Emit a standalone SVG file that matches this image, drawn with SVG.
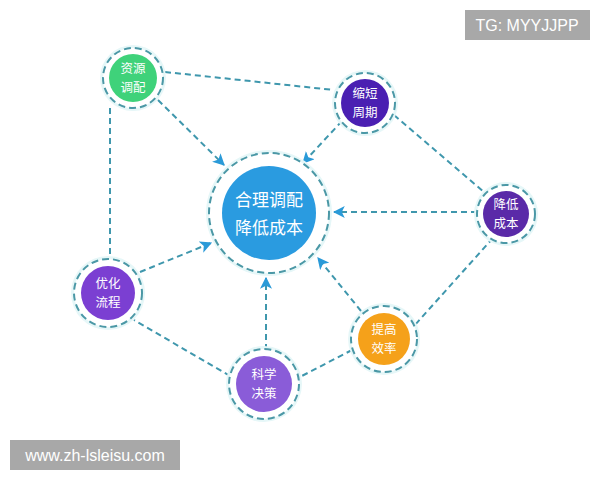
<svg xmlns="http://www.w3.org/2000/svg" width="600" height="480" viewBox="0 0 600 480">
<defs>
<style>
.ring{fill:#ffffff;stroke:#4b98a6;stroke-width:2;stroke-dasharray:7 4}
.glow{fill:#e6f7f8}
.lbl{font-family:"Noto Sans CJK SC","Noto Sans",sans-serif;fill:#ffffff;text-anchor:middle}
.s{font-size:12.5px}
.b{font-size:17px}
.con{fill:none;stroke:#3f97ad;stroke-width:2;stroke-dasharray:6 4}
.wm{font-family:"Liberation Sans",Arial,sans-serif;fill:#ffffff;font-size:16px}
</style>
<marker id="arr" viewBox="0 0 10 10" refX="9" refY="5" markerWidth="6" markerHeight="6" orient="auto" markerUnits="strokeWidth">
<path d="M0,0 L10,5 L0,10 L2.5,5 z" fill="#2a9ad8"/>
</marker>
</defs>
<rect width="600" height="480" fill="#ffffff"/>
<g id="connectors">
<path class="con" d="M165,72 L334,90"/>
<path class="con" d="M394,115 L484,192"/>
<path class="con" d="M493,238 L414,326"/>
<path class="con" d="M352,350 L296,379"/>
<path class="con" d="M230,376 L134,320"/>
<path class="con" d="M110,108 L110,260"/>
<path class="con" d="M158,100 L224,165" marker-end="url(#arr)"/>
<path class="con" d="M342,121 L303,163" marker-end="url(#arr)"/>
<path class="con" d="M477,212 L334,212" marker-end="url(#arr)"/>
<path class="con" d="M140,272 L211,243" marker-end="url(#arr)"/>
<path class="con" d="M266,350 L266,278" marker-end="url(#arr)"/>
<path class="con" d="M361,311 L318,258" marker-end="url(#arr)"/>
</g>
<g id="center">
<circle class="glow" cx="269" cy="213" r="63"/>
<circle class="ring" cx="269" cy="213" r="60"/>
<circle cx="269" cy="213" r="47" fill="#2a9be0"/>
<text class="lbl b" x="269" y="206">合理调配</text>
<text class="lbl b" x="269" y="234">降低成本</text>
</g>
<g id="n-ziyuan">
<circle class="glow" cx="133" cy="78" r="33"/>
<circle class="ring" cx="133" cy="78" r="30"/>
<circle cx="133" cy="78" r="24" fill="#3fd27a"/>
<text class="lbl s" x="133" y="73">资源</text>
<text class="lbl s" x="133" y="92">调配</text>
</g>
<g id="n-suoduan">
<circle class="glow" cx="365" cy="103" r="33"/>
<circle class="ring" cx="365" cy="103" r="30"/>
<circle cx="365" cy="103" r="24" fill="#4a1fb2"/>
<text class="lbl s" x="365" y="98">缩短</text>
<text class="lbl s" x="365" y="117">周期</text>
</g>
<g id="n-jiangdi">
<circle class="glow" cx="506" cy="214" r="32"/>
<circle class="ring" cx="506" cy="214" r="29"/>
<circle cx="506" cy="214" r="23" fill="#5a2aa8"/>
<text class="lbl s" x="506" y="209">降低</text>
<text class="lbl s" x="506" y="228">成本</text>
</g>
<g id="n-youhua">
<circle class="glow" cx="108" cy="293" r="37"/>
<circle class="ring" cx="108" cy="293" r="34"/>
<circle cx="108" cy="293" r="27" fill="#7b3fd2"/>
<text class="lbl s" x="108" y="288">优化</text>
<text class="lbl s" x="108" y="307">流程</text>
</g>
<g id="n-tigao">
<circle class="glow" cx="384" cy="339" r="36"/>
<circle class="ring" cx="384" cy="339" r="33"/>
<circle cx="384" cy="339" r="26" fill="#f5a11a"/>
<text class="lbl s" x="384" y="334">提高</text>
<text class="lbl s" x="384" y="353">效率</text>
</g>
<g id="n-kexue">
<circle class="glow" cx="264" cy="384" r="38"/>
<circle class="ring" cx="264" cy="384" r="35"/>
<circle cx="264" cy="384" r="28" fill="#8a5cd8"/>
<text class="lbl s" x="264" y="379">科学</text>
<text class="lbl s" x="264" y="398">决策</text>
</g>
<g id="watermarks">
<rect x="465" y="10" width="125" height="30" fill="#a8a8a8"/>
<text class="wm" x="527" y="31" text-anchor="middle">TG: MYYJJPP</text>
<rect x="10" y="440" width="170" height="30" fill="#a8a8a8"/>
<text class="wm" x="95" y="461" text-anchor="middle">www.zh-lsleisu.com</text>
</g>
</svg>
